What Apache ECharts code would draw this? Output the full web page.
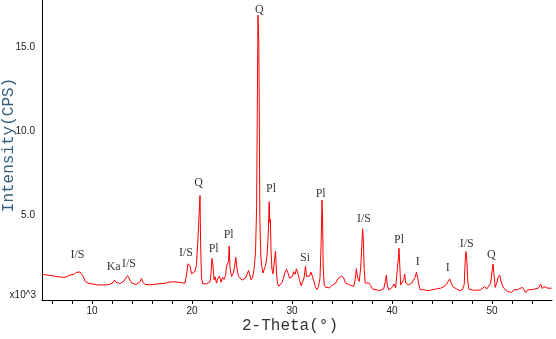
<!DOCTYPE html>
<html>
<head>
<meta charset="utf-8">
<script src="https://cdn.jsdelivr.net/npm/echarts@6/dist/echarts.min.js"></script>
<style>
  html, body { margin: 0; padding: 0; background: #fff; }
  #xrd { width: 556px; height: 339px; }
</style>
</head>
<body>
<div id="xrd"></div>
<script>
// 2-Theta (deg)
var angles = [
  5.0, 5.2, 5.4, 5.6, 5.8, 6.0, 6.2, 6.4, 6.6, 6.8,
  7.0, 7.2, 7.4, 7.6, 7.8, 8.0, 8.2, 8.4, 8.5, 8.6,
  8.8, 9.0, 9.15, 9.3, 9.5, 9.7, 9.9, 10.1, 10.3, 10.5,
  10.7, 10.9, 11.1, 11.3, 11.5, 11.7, 11.9, 12.1, 12.25, 12.4,
  12.6, 12.8, 13.0, 13.2, 13.4, 13.55, 13.7, 13.85, 14.0, 14.2,
  14.4, 14.6, 14.8, 14.95, 15.1, 15.3, 15.5, 15.7, 15.9, 16.1,
  16.3, 16.5, 16.7, 16.9, 17.1, 17.3, 17.5, 17.7, 17.9, 18.1,
  18.3, 18.5, 18.7, 18.9, 19.1, 19.3, 19.45, 19.6, 19.7, 19.82,
  19.95, 20.1, 20.3, 20.45, 20.58, 20.7, 20.8, 20.86, 20.95, 21.07,
  21.25, 21.45, 21.65, 21.82, 21.92, 22.0, 22.1, 22.2, 22.3, 22.45,
  22.6, 22.75, 22.9, 23.05, 23.2, 23.35, 23.45, 23.55, 23.65, 23.72,
  23.8, 23.95, 24.1, 24.25, 24.38, 24.5, 24.65, 24.85, 25.0, 25.2,
  25.35, 25.5, 25.65, 25.75, 25.9, 26.05, 26.2, 26.35, 26.46, 26.54,
  26.6, 26.68, 26.72, 26.78, 26.88, 26.98, 27.1, 27.2, 27.35, 27.5,
  27.62, 27.72, 27.78, 27.84, 27.9, 28.0, 28.1, 28.22, 28.35, 28.45,
  28.55, 28.7, 28.85, 29.0, 29.15, 29.3, 29.45, 29.6, 29.75, 29.9,
  30.05, 30.15, 30.3, 30.45, 30.6, 30.75, 30.9, 31.05, 31.2, 31.35,
  31.45, 31.6, 31.75, 31.9, 32.05, 32.2, 32.35, 32.5, 32.65, 32.8,
  32.92, 33.0, 33.06, 33.12, 33.22, 33.37, 33.57, 33.77, 33.97, 34.17,
  34.37, 34.57, 34.77, 34.97, 35.17, 35.37, 35.57, 35.77, 35.97, 36.17,
  36.32, 36.44, 36.57, 36.72, 36.87, 36.98, 37.06, 37.14, 37.22, 37.32,
  37.47, 37.67, 37.87, 38.07, 38.27, 38.47, 38.77, 38.97, 39.17, 39.34,
  39.44, 39.52, 39.67, 39.87, 40.07, 40.22, 40.37, 40.54, 40.64, 40.7,
  40.79, 40.87, 41.02, 41.17, 41.27, 41.37, 41.52, 41.67, 41.82, 41.97,
  42.12, 42.32, 42.44, 42.57, 42.67, 42.82, 43.07, 43.37, 43.67, 43.97,
  44.27, 44.57, 44.87, 45.07, 45.27, 45.47, 45.62, 45.77, 45.92, 46.07,
  46.27, 46.47, 46.77, 47.02, 47.22, 47.32, 47.4, 47.47, 47.57, 47.67,
  47.87, 48.07, 48.27, 48.47, 48.67, 48.87, 49.07, 49.27, 49.47, 49.67,
  49.87, 50.0, 50.1, 50.2, 50.32, 50.47, 50.62, 50.77, 50.87, 51.02,
  51.17, 51.37, 51.57, 51.77, 51.97, 52.17, 52.37, 52.57, 52.77, 53.04,
  53.22, 53.37, 53.57, 53.77, 54.04, 54.27, 54.47, 54.67, 54.87, 55.02,
  55.17, 55.37, 55.57, 55.77, 55.97
];
// intensity, x10^3 CPS
var counts = [
  1.52, 1.47, 1.49, 1.44, 1.46, 1.40, 1.42, 1.36, 1.38, 1.32,
  1.35, 1.30, 1.36, 1.42, 1.48, 1.55, 1.52, 1.64, 1.60, 1.70,
  1.66, 1.56, 1.38, 1.10, 1.02, 0.98, 0.93, 0.95, 0.86, 0.90,
  0.86, 0.89, 0.84, 0.90, 0.86, 0.91, 0.95, 1.02, 1.18, 1.05,
  0.96, 0.98, 1.06, 1.12, 1.22, 1.44, 1.30, 1.12, 1.00, 0.90,
  0.92, 0.98, 1.08, 1.28, 1.05, 0.92, 0.94, 0.90, 0.95, 0.92,
  0.96, 0.95, 0.99, 0.97, 1.01, 0.99, 1.04, 1.06, 1.02, 1.08,
  1.03, 1.06, 0.99, 1.03, 1.05, 1.00, 1.50, 2.15, 2.24, 2.00,
  1.55, 1.50, 1.70, 2.10, 3.46, 3.50, 6.20, 3.40, 1.30, 0.97,
  0.92, 0.96, 0.93, 1.10, 1.70, 2.47, 2.05, 1.20, 1.38, 1.00,
  1.30, 1.42, 1.05, 1.35, 1.22, 1.45, 2.00, 1.92, 2.30, 3.20,
  1.90, 1.40, 1.55, 1.95, 2.53, 1.85, 1.40, 1.32, 1.18, 1.10,
  1.30, 1.40, 1.75, 1.55, 1.20, 1.32, 1.80, 2.80, 5.50, 12.30,
  16.90, 15.30, 12.00, 5.00, 2.60, 1.98, 1.60, 1.54, 2.05, 2.60,
  3.80, 5.83, 4.60, 4.80, 2.97, 1.80, 1.55, 2.20, 2.90, 1.60,
  0.95, 0.82, 0.92, 1.05, 1.30, 1.65, 1.82, 1.60, 1.30, 1.20,
  1.40, 1.68, 1.52, 1.85, 1.55, 1.20, 0.85, 1.05, 1.30, 2.02,
  1.40, 1.35, 1.42, 1.65, 1.55, 1.10, 0.75, 0.62, 0.80, 1.30,
  3.50, 5.93, 4.80, 2.00, 0.90, 0.75, 0.82, 0.72, 0.86, 0.80,
  1.00, 1.25, 1.36, 1.42, 1.30, 1.00, 1.06, 0.90, 0.85, 0.80,
  1.20, 1.86, 1.30, 1.10, 1.90, 3.20, 4.23, 3.50, 1.80, 1.00,
  0.96, 1.02, 0.86, 0.64, 0.66, 0.60, 0.56, 0.59, 0.66, 1.10,
  1.48, 0.90, 0.60, 0.66, 0.78, 0.95, 0.72, 1.88, 2.50, 3.07,
  1.90, 0.90, 0.92, 1.20, 1.54, 1.00, 1.10, 0.90, 0.86, 1.00,
  1.02, 1.35, 1.64, 1.30, 0.95, 0.60, 0.62, 0.58, 0.55, 0.61,
  0.63, 0.68, 0.70, 0.78, 0.82, 0.95, 1.10, 1.25, 1.00, 0.80,
  0.86, 0.65, 0.55, 0.60, 0.90, 2.30, 2.87, 2.50, 1.20, 0.65,
  0.55, 0.58, 0.64, 0.58, 0.55, 0.60, 0.68, 0.80, 0.65, 0.72,
  1.00, 1.70, 2.14, 1.50, 0.75, 1.00, 1.35, 1.48, 1.20, 0.90,
  0.70, 0.60, 0.50, 0.40, 0.45, 0.60, 0.58, 0.62, 0.70, 0.75,
  0.65, 0.45, 0.60, 0.55, 0.62, 0.65, 0.70, 0.72, 0.95, 0.68,
  0.80, 0.78, 0.70, 0.72, 0.70
];

// peak labels (mineral phases) and where their text sits
var phaseNames = ['I/S', 'Ka', 'I/S', 'I/S', 'Q', 'Pl', 'Pl', 'Q', 'Pl', 'Si', 'Pl', 'I/S', 'Pl', 'I', 'I', 'I/S', 'Q'];
var phaseAngle = [8.54, 12.17, 13.7, 19.4, 20.67, 22.17, 23.67, 26.74, 27.9, 31.3, 32.87, 37.2, 40.7, 42.57, 45.57, 47.47, 49.94];
var phaseLevel = [2.67, 1.96, 2.12, 2.81, 6.94, 3.01, 3.86, 17.2, 6.57, 2.51, 6.27, 4.82, 3.56, 2.27, 1.88, 3.36, 2.67];

var xTicks = [6, 8, 10, 12, 14, 16, 18, 20, 22, 24, 26, 28, 30, 32, 34, 36, 38, 40, 42, 44, 46, 48, 50, 52, 54];
var xLabels = [10, 20, 30, 40, 50];
var yLabels = [5, 10, 15];

var pattern = angles.map(function (a, i) { return [a, counts[i]]; });
var phases = phaseNames.map(function (n, i) { return { name: n, value: [phaseAngle[i], phaseLevel[i]] }; });

var chart = echarts.init(document.getElementById('xrd'));
var option = {
  backgroundColor: '#fff',
  animation: false,
  grid: { left: 42, right: 4, top: 0, bottom: 39 },
  xAxis: {
    type: 'value',
    min: 5,
    max: 56,
    axisLine: { show: true, lineStyle: { color: '#000', width: 1 } },
    axisTick: { show: true, customValues: xTicks, length: 4, lineStyle: { color: '#000' } },
    axisLabel: {
      customValues: xLabels,
      margin: 6,
      fontFamily: 'Liberation Sans',
      fontSize: 10,
      color: '#222'
    },
    splitLine: { show: false }
  },
  yAxis: {
    type: 'value',
    min: 0,
    max: 17.8,
    axisLine: { show: true, lineStyle: { color: '#000', width: 1 } },
    axisTick: { show: false },
    axisLabel: {
      customValues: yLabels,
      margin: 7,
      fontFamily: 'Liberation Sans',
      fontSize: 10,
      color: '#222',
      formatter: function (v) { return v.toFixed(1); }
    },
    splitLine: { show: false }
  },
  graphic: [
    {
      type: 'text', x: 36, y: 295,
      style: { text: 'x10^3', textAlign: 'right', textVerticalAlign: 'middle', font: '10px "Liberation Sans"', fill: '#222' }
    },
    {
      type: 'text', x: 9, y: 145, rotation: Math.PI / 2,
      style: { text: 'Intensity(CPS)', textAlign: 'center', textVerticalAlign: 'middle', font: '16px "Liberation Mono"', fill: '#35607f' }
    },
    {
      type: 'text', x: 290, y: 326,
      style: { text: '2-Theta(°)', textAlign: 'center', textVerticalAlign: 'middle', font: '16px "Liberation Mono"', fill: '#333' }
    }
  ],
  series: [
    {
      type: 'line',
      data: pattern,
      symbol: 'none',
      lineStyle: { color: '#ff0000', width: 1 },
      silent: true
    },
    {
      type: 'scatter',
      data: phases,
      symbolSize: 0,
      itemStyle: { color: 'transparent' },
      silent: true,
      label: {
        show: true,
        position: 'inside',
        formatter: '{b}',
        fontFamily: 'Liberation Serif',
        fontSize: 12,
        color: '#000'
      }
    }
  ]
};
chart.setOption(option);
</script>
</body>
</html>
